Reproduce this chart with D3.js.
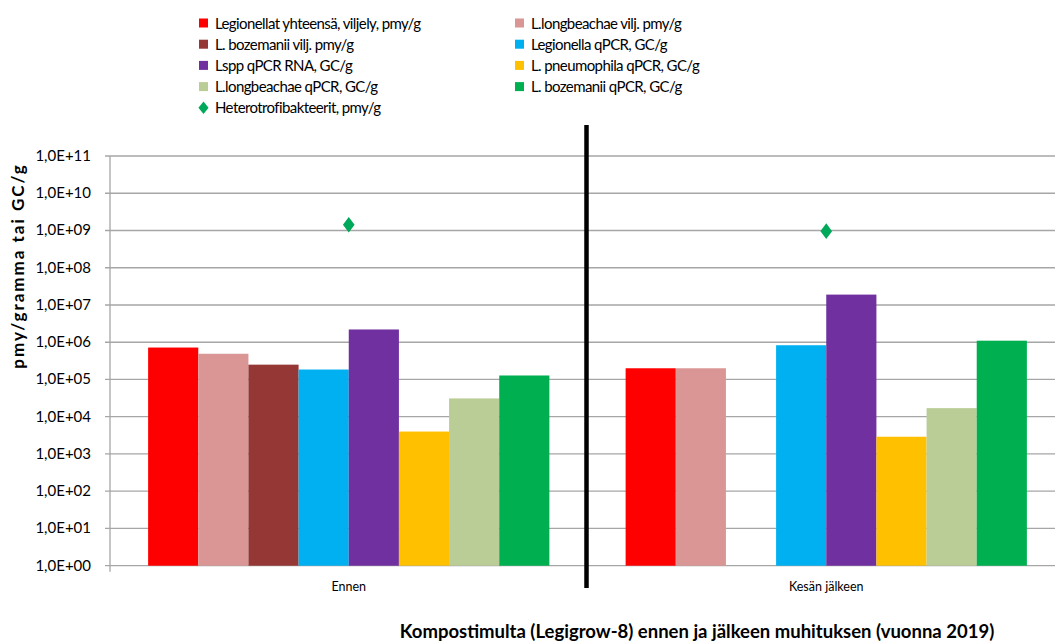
<!DOCTYPE html>
<html>
<head>
<meta charset="utf-8">
<script src="https://cdn.jsdelivr.net/npm/d3@7"></script>
<style>
  body { margin: 0; background: #fff; }
  svg { font-family: Lato, "Open Sans", sans-serif; }
</style>
</head>
<body>
<svg id="chart" width="1055" height="644"></svg>
<script>
//------------------------------------------------------------------------------
//Data
//------------------------------------------------------------------------------
var categories = ["Ennen", "Kesän jälkeen"];

var seriesNames = [
  "Legionellat yhteensä, viljely, pmy/g",
  "L.longbeachae vilj. pmy/g",
  "L. bozemanii vilj. pmy/g",
  "Legionella qPCR, GC/g",
  "Lspp qPCR RNA, GC/g",
  "L. pneumophila qPCR, GC/g",
  "L.longbeachae qPCR, GC/g",
  "L. bozemanii qPCR, GC/g"
];
var seriesColors = ["#ff0000", "#d99694", "#953735", "#00b0f0", "#7030a0", "#ffc000", "#bbcd97", "#00b050"];

// one value per category (null = no bar)
var legionellatViljely = [7.2e5, 2.0e5];
var longbeachaeVilj    = [4.9e5, 2.0e5];
var bozemaniiVilj      = [2.5e5, null];
var legionellaQpcr     = [1.85e5, 8.3e5];
var lsppRna            = [2.2e6, 1.9e7];
var pneumophilaQpcr    = [4.0e3, 2.9e3];
var longbeachaeQpcr    = [3.1e4, 1.7e4];
var bozemaniiQpcr      = [1.28e5, 1.1e6];

var heteroName = "Heterotrofibakteerit, pmy/g";
var heteroValues = [1.42e9, 9.6e8];

var yTicks = [1, 1e1, 1e2, 1e3, 1e4, 1e5, 1e6, 1e7, 1e8, 1e9, 1e10, 1e11];

var seriesValues = [legionellatViljely, longbeachaeVilj, bozemaniiVilj, legionellaQpcr,
                    lsppRna, pneumophilaQpcr, longbeachaeQpcr, bozemaniiQpcr];

//------------------------------------------------------------------------------
//Chart
//------------------------------------------------------------------------------
var svg = d3.select("#chart");
var plotLeft = 110, plotRight = 1065, plotTop = 156, plotBottom = 565.7;

var x = d3.scaleBand().domain(categories).range([plotLeft, plotRight]);
var xInner = d3.scaleBand().domain(d3.range(seriesNames.length))
  .range([0, x.bandwidth()]).paddingInner(0).paddingOuter(0.76);
var y = d3.scaleLog().domain([1, 1e11]).range([plotBottom, plotTop]);

var fmt = function (v) {
  var e = Math.round(Math.log10(v));
  return "1,0E+" + (e < 10 ? "0" + e : e);
};

// gridlines
svg.append("g")
  .selectAll("line")
  .data(yTicks)
  .enter()
  .append("line")
  .attr("x1", plotLeft - 5)
  .attr("x2", plotRight)
  .attr("y1", function (d) { return y(d); })
  .attr("y2", function (d) { return y(d); })
  .attr("stroke", "#a6a6a6")
  .attr("stroke-width", 1.3);

// y axis labels
svg.append("g")
  .selectAll("text")
  .data(yTicks)
  .enter()
  .append("text")
  .attr("x", 91)
  .attr("y", function (d) { return y(d) + 5; })
  .attr("text-anchor", "end")
  .attr("font-size", "15px")
  .attr("fill", "#000")
  .text(fmt);

// y axis line
svg.append("line")
  .attr("x1", plotLeft).attr("x2", plotLeft)
  .attr("y1", plotTop).attr("y2", plotBottom)
  .attr("stroke", "#a6a6a6").attr("stroke-width", 1.3);

// category ticks
svg.append("g")
  .selectAll("line")
  .data(categories)
  .enter()
  .append("line")
  .attr("x1", function (d) { return x(d); })
  .attr("x2", function (d) { return x(d); })
  .attr("y1", plotBottom)
  .attr("y2", plotBottom + 6)
  .attr("stroke", "#a6a6a6").attr("stroke-width", 1.3);

// bars
var groups = svg.append("g")
  .selectAll("g")
  .data(categories)
  .enter()
  .append("g")
  .attr("transform", function (d) { return "translate(" + x(d) + ",0)"; });

groups.selectAll("rect")
  .data(function (d, ci) {
    return seriesValues.map(function (vals, si) { return { s: si, v: vals[ci] }; })
      .filter(function (e) { return e.v != null; });
  })
  .enter()
  .append("rect")
  .attr("x", function (d) { return xInner(d.s); })
  .attr("width", xInner.bandwidth())
  .attr("y", function (d) { return y(d.v); })
  .attr("height", function (d) { return plotBottom - y(d.v); })
  .attr("fill", function (d) { return seriesColors[d.s]; });

// divider line
svg.append("line")
  .attr("x1", x(categories[1]) - 1)
  .attr("x2", x(categories[1]) - 1)
  .attr("y1", 125)
  .attr("y2", 588)
  .attr("stroke", "#000")
  .attr("stroke-width", 4.5);

// heterotrophic diamonds
var diamond = d3.symbol().type(d3.symbolDiamond).size(70);
svg.append("g")
  .selectAll("path")
  .data(heteroValues)
  .enter()
  .append("path")
  .attr("d", diamond)
  .attr("transform", function (d, i) {
    return "translate(" + (x(categories[i]) + x.bandwidth() / 2) + "," + y(d) + ") scale(1.3,1)";
  })
  .attr("fill", "#00a859");

// category labels
svg.append("g")
  .selectAll("text")
  .data(categories)
  .enter()
  .append("text")
  .attr("x", function (d) { return x(d) + x.bandwidth() / 2; })
  .attr("y", 591)
  .attr("text-anchor", "middle")
  .attr("font-size", "12.5px")
  .text(function (d) { return d; });

// axis titles
svg.append("text")
  .attr("transform", "translate(24,266) rotate(-90)")
  .attr("text-anchor", "middle")
  .attr("font-size", "17px")
  .attr("font-weight", "bold")
  .attr("letter-spacing", "2px")
  .text("pmy/gramma tai GC/g");

svg.append("text")
  .attr("x", 697)
  .attr("y", 638)
  .attr("text-anchor", "middle")
  .attr("font-size", "18.5px")
  .attr("font-weight", "bold")
  .text("Kompostimulta (Legigrow-8) ennen ja jälkeen muhituksen (vuonna 2019)");

//------------------------------------------------------------------------------
//Legend
//------------------------------------------------------------------------------
var legendItems = seriesNames.map(function (n, i) { return { name: n, color: seriesColors[i], type: "rect" }; });
legendItems.push({ name: heteroName, color: "#00a859", type: "diamond" });

var legend = svg.append("g")
  .selectAll("g")
  .data(legendItems)
  .enter()
  .append("g")
  .attr("transform", function (d, i) {
    var col = i % 2, row = Math.floor(i / 2);
    return "translate(" + (col === 0 ? 199 : 515) + "," + (23 + row * 21.2) + ")";
  });

legend.filter(function (d) { return d.type === "rect"; })
  .append("rect")
  .attr("x", 0).attr("y", -4.5)
  .attr("width", 9).attr("height", 9)
  .attr("fill", function (d) { return d.color; });

legend.filter(function (d) { return d.type === "diamond"; })
  .append("path")
  .attr("d", d3.symbol().type(d3.symbolDiamond).size(45))
  .attr("transform", "translate(4.5,0) scale(1.4,1)")
  .attr("fill", function (d) { return d.color; });

legend.append("text")
  .attr("x", 16)
  .attr("y", 5.5)
  .attr("font-size", "15px")
  .attr("letter-spacing", "-0.6px")
  .text(function (d) { return d.name; });
</script>
</body>
</html>
